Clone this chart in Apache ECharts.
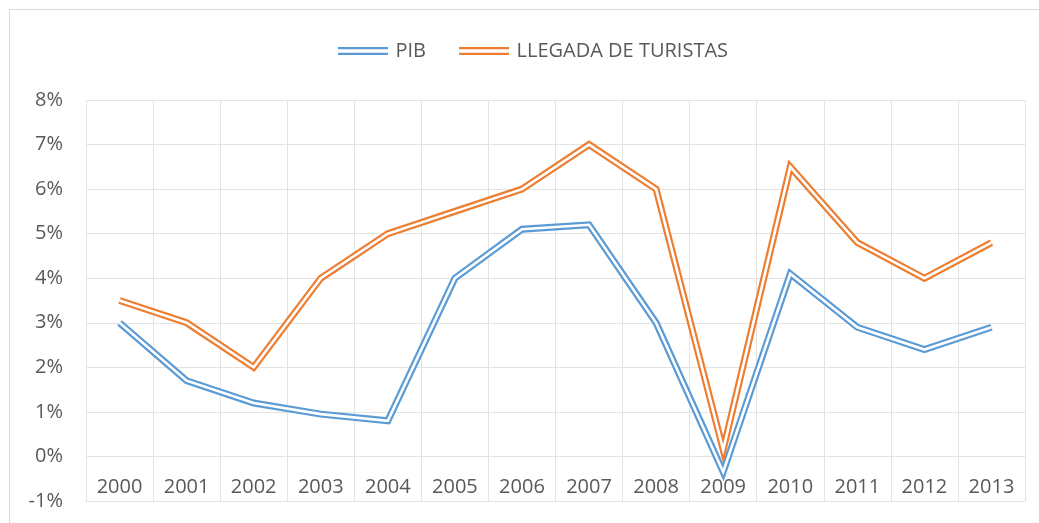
<!DOCTYPE html>
<html>
<head>
<meta charset="utf-8">
<script src="https://cdn.jsdelivr.net/npm/echarts@6/dist/echarts.min.js"></script>
<style>
  html, body { margin: 0; padding: 0; background: #fff; }
  #chart { width: 1039px; height: 523px; }
</style>
</head>
<body>
<div id="chart"></div>
<script>
  // datos
  var years = ['2000', '2001', '2002', '2003', '2004', '2005', '2006', '2007', '2008', '2009', '2010', '2011', '2012', '2013'];
  var pib = [3.0, 1.7, 1.2, 0.95, 0.8, 4.0, 5.1, 5.2, 3.0, -0.35, 4.1, 2.9, 2.4, 2.9];
  var turistas = [3.5, 3.0, 2.0, 4.0, 5.0, 5.5, 6.0, 7.0, 6.0, 0.15, 6.5, 4.8, 4.0, 4.8];
  var yTicks = { min: -1, max: 8, step: 1 };

  var font = '"Open Sans", "Liberation Sans", sans-serif';
  var grey = '#595959';
  var gridColor = '#e3e3e3';

  // linea doble: trazo grueso de color + trazo blanco encima
  function doubleLine(name, data, color) {
    return [
      {
        name: name,
        type: 'line',
        data: data,
        symbol: 'none',
        color: color,
        lineStyle: { width: 7, color: color, join: 'miter' },
        z: 3
      },
      {
        name: name + '_gap',
        type: 'line',
        data: data,
        symbol: 'none',
        lineStyle: { width: 2.6, color: '#fff', join: 'miter' },
        z: 4
      }
    ];
  }

  var option = {
    animation: false,
    backgroundColor: '#fff',
    graphic: [{
      type: 'rect',
      shape: { x: 9.5, y: 9.5, width: 1200, height: 700 },
      style: { fill: 'none', stroke: '#d9d9d9', lineWidth: 1 },
      silent: true
    }],
    legend: {
      data: ['PIB', 'LLEGADA DE TURISTAS'],
      left: 333,
      top: 36,
      itemWidth: 51,
      itemHeight: 8,
      itemGap: 33,
      icon: 'path://M0,0H50V2.2H0Z M0,5.8H50V8H0Z',
      textStyle: { fontFamily: font, fontSize: 20, color: grey, padding: [0, 0, 0, 2] }
    },
    grid: {
      left: 86,
      right: 14,
      top: 100,
      bottom: 22,
      containLabel: false,
      outerBoundsMode: 'none'
    },
    xAxis: {
      type: 'category',
      data: years,
      boundaryGap: true,
      axisLine: { onZero: false, lineStyle: { color: gridColor, width: 1 } },
      axisTick: { show: false },
      // etiquetas dentro del area, entre 0% y -1%
      axisLabel: { fontFamily: font, fontSize: 20, color: grey, margin: -24 },
      splitLine: { show: true, interval: 0, lineStyle: { color: gridColor, width: 1 } }
    },
    yAxis: {
      type: 'value',
      min: yTicks.min,
      max: yTicks.max,
      interval: yTicks.step,
      axisLine: { show: false },
      axisTick: { show: false },
      axisLabel: {
        fontFamily: font,
        fontSize: 20,
        color: grey,
        margin: 23,
        formatter: '{value}%'
      },
      splitLine: { lineStyle: { color: gridColor, width: 1 } }
    },
    series: doubleLine('PIB', pib, '#5B9BD5').concat(doubleLine('LLEGADA DE TURISTAS', turistas, '#ED7D31'))
  };

  var chart = echarts.init(document.getElementById('chart'));
  chart.setOption(option);
</script>
</body>
</html>
